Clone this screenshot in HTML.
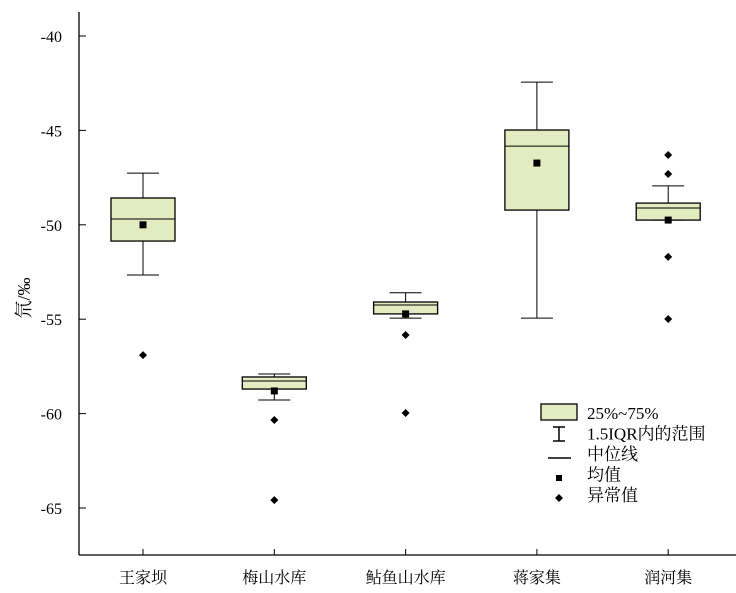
<!DOCTYPE html>
<html><head><meta charset="utf-8"><style>
body{margin:0;background:#fff;}
svg{display:block;font-family:"Liberation Serif","Noto Serif CJK SC",serif;}
</style></head><body>
<svg id="chart" width="736" height="593"></svg>
<script>
const categories=["王家坝","梅山水库","鲇鱼山水库","蒋家集","润河集"];
const whiskerHigh=[-47.26,-57.9,-53.6,-42.44,-47.94];
const q3=[-48.58,-58.06,-54.09,-44.98,-48.85];
const median=[-49.69,-58.27,-54.25,-45.83,-49.11];
const q1=[-50.86,-58.7,-54.72,-49.22,-49.75];
const whiskerLow=[-52.66,-59.28,-54.94,-54.94,-49.75];
const means=[-50.0,-58.8,-54.72,-46.73,-49.75];
const outliers=[[-56.9],[-60.34,-64.58],[-55.84,-59.97],[],[-46.3,-47.31,-51.7,-54.99]];
const yTicks=[-40,-45,-50,-55,-60,-65];
const NS="http://www.w3.org/2000/svg";
const svg=document.getElementById("chart");
const y=v=>36+(-40-v)*18.88;
const x=i=>143+i*131.3;
function mk(t,a,p){const e=document.createElementNS(NS,t);for(const k in a)e.setAttribute(k,a[k]);(p||svg).appendChild(e);return e;}
let ax=mk("line",{x1:79,y1:12,x2:79,y2:555,stroke:"#000","stroke-width":1.3});


let bx=mk("line",{x1:79,y1:555,x2:736,y2:555,stroke:"#000","stroke-width":1.3});


yTicks.forEach(v=>{
 mk("line",{x1:79,y1:y(v),x2:86,y2:y(v),stroke:"#000"});
 let t=mk("text",{x:62,y:y(v)+6,"text-anchor":"end","font-size":16});t.textContent=v;
 
 
});
let yl=mk("text",{x:0,y:0,transform:"translate(30,298) rotate(-90)","text-anchor":"middle","font-size":18});
yl.textContent="氘/‰";


categories.forEach((c,i)=>{
 const cx=x(i),w=32;
 mk("line",{x1:cx,y1:555,x2:cx,y2:549,stroke:"#000"});
 let t=mk("text",{x:cx,y:583,"text-anchor":"middle","font-size":16});t.textContent=c;
 
 
 const g=mk("g",{});
 
 
 mk("line",{x1:cx,y1:y(whiskerHigh[i]),x2:cx,y2:y(q3[i]),stroke:"#000"},g);
 mk("line",{x1:cx,y1:y(q1[i]),x2:cx,y2:y(whiskerLow[i]),stroke:"#000"},g);
 mk("line",{x1:cx-16,y1:y(whiskerHigh[i]),x2:cx+16,y2:y(whiskerHigh[i]),stroke:"#000"},g);
 mk("line",{x1:cx-16,y1:y(whiskerLow[i]),x2:cx+16,y2:y(whiskerLow[i]),stroke:"#000"},g);
 mk("rect",{x:cx-w,y:y(q3[i]),width:2*w,height:y(q1[i])-y(q3[i]),fill:"#e3ecc0",stroke:"#000","stroke-width":1.3},g);
 mk("line",{x1:cx-w,y1:y(median[i]),x2:cx+w,y2:y(median[i]),stroke:"#000"},g);
 mk("rect",{x:cx-3.5,y:y(means[i])-3.5,width:7,height:7,fill:"#000"},g);
 outliers[i].forEach(o=>{
  let d=mk("path",{d:`M${cx},${y(o)-4}L${cx+4},${y(o)}L${cx},${y(o)+4}L${cx-4},${y(o)}Z`,fill:"#000"},g);
  
  
 });
});
const lg=mk("g",{});


mk("rect",{x:541,y:404,width:36,height:16,fill:"#e3ecc0",stroke:"#000","stroke-width":1.3},lg);
mk("line",{x1:559,y1:427,x2:559,y2:441,stroke:"#000","stroke-width":1.5},lg);
mk("line",{x1:553,y1:427,x2:565,y2:427,stroke:"#000","stroke-width":1.5},lg);
mk("line",{x1:553,y1:441,x2:565,y2:441,stroke:"#000","stroke-width":1.5},lg);
mk("line",{x1:548,y1:458,x2:571,y2:458,stroke:"#000","stroke-width":1.5},lg);
mk("rect",{x:556,y:475,width:6,height:6,fill:"#000"},lg);
mk("path",{d:"M559,494L563,498L559,502L555,498Z",fill:"#000"},lg);
["25%~75%","1.5IQR内的范围","中位线","均值","异常值"].forEach((s,k)=>{
 let t=mk("text",{x:587,y:419+k*20.5,"font-size":17},lg);t.textContent=s;
 
 
});
</script>
</body></html>
